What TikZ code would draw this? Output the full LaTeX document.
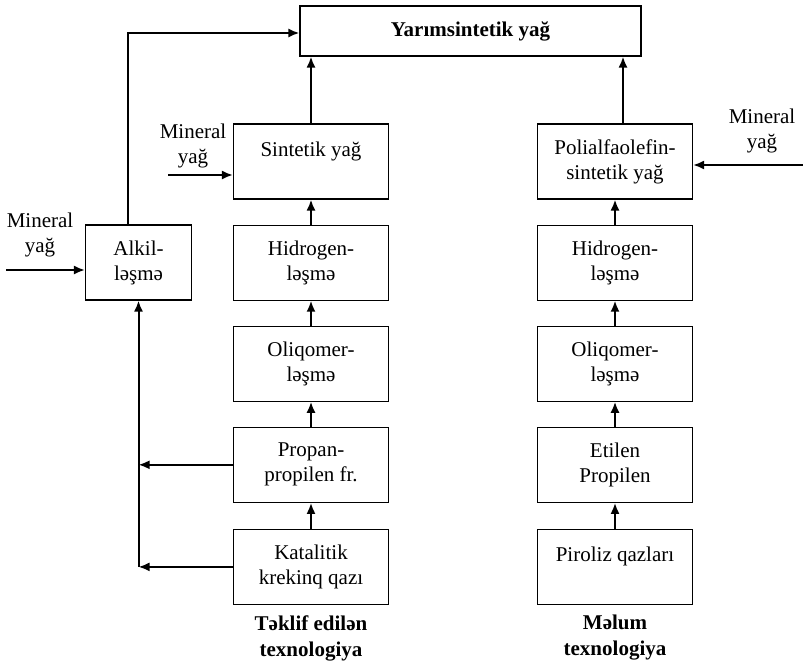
\documentclass[tikz,border=0pt]{standalone}
\usepackage{fontspec}
\setmainfont{Liberation Serif}
\usetikzlibrary{arrows.meta,positioning}

\begin{document}
\begin{tikzpicture}[x=1pt,y=-1pt,
    font=\fontsize{21}{25}\selectfont,
    blok/.style={draw,line width=1.1pt,minimum width=155pt,minimum height=75pt,inner sep=0pt,align=center},
    arr/.style={line width=2pt,-{Latex[length=11pt,width=9pt]}}]
    \useasboundingbox (0,0) rectangle (803,664);

    \node[blok,minimum width=341pt,minimum height=50pt,font=\fontsize{21}{25}\selectfont\bfseries] (top) at (470.5,31) {Yarımsintetik yağ};

    \node[blok] (sint) at (311,161.5) {Sintetik yağ\\\mbox{}};
    \node[blok,below=25pt of sint] (hid1) {Hidrogen-\\ləşmə};
    \node[blok,below=25pt of hid1] (oli1) {Oliqomer-\\ləşmə};
    \node[blok,below=25pt of oli1] (prop) {Propan-\\propilen fr.};
    \node[blok,below=26pt of prop] (kat) {Katalitik\\krekinq qazı};

    \node[blok] (pao) at (615,161.5) {Polialfaolefin-\\sintetik yağ};
    \node[blok,below=25pt of pao] (hid2) {Hidrogen-\\ləşmə};
    \node[blok,below=25pt of hid2] (oli2) {Oliqomer-\\ləşmə};
    \node[blok,below=25pt of oli2] (etil) {Etilen\\Propilen};
    \node[blok,below=26pt of etil] (pir) {Piroliz qazları\\\mbox{}};

    \node[blok,minimum width=106pt] (alk) at (138.5,262.5) {Alkil-\\ləşmə};

    \node[align=center] (min1) at (40,235) {Mineral\\yağ};
    \node[align=center] (min2) at (193,146) {Mineral\\yağ};
    \node[align=center] (min3) at (762,131) {Mineral\\yağ};

    \node[align=center,font=\fontsize{21}{26}\selectfont\bfseries] (tek1) at (311,638) {Təklif edilən\\texnologiya};
    \node[align=center,font=\fontsize{21}{26}\selectfont\bfseries] (tek2) at (615,638) {Məlum\\texnologiya};

    \coordinate (m1) at (6,270);
    \coordinate (m2) at (168,175);
    \coordinate (m3) at (803,165);
    \coordinate (k1) at (128,33);

    \draw[arr] (hid1) -- (sint);
    \draw[arr] (oli1) -- (hid1);
    \draw[arr] (prop) -- (oli1);
    \draw[arr] (kat) -- (prop);
    \draw[arr] (hid2) -- (pao);
    \draw[arr] (oli2) -- (hid2);
    \draw[arr] (etil) -- (oli2);
    \draw[arr] (pir) -- (etil);

    \draw[arr] (sint) -- (sint.north |- top.south);
    \draw[arr] ([xshift=8pt]pao.north) -- ([xshift=8pt]pao.north |- top.south);
    \draw[arr] (alk.north -| k1) -- (k1) -- (k1 -| top.west);

    \draw[arr] (m1) -- (m1 -| alk.west);
    \draw[arr] (m2) -- (m2 -| sint.west);
    \draw[arr] (m3) -- (m3 -| pao.east);

    \draw[arr] (prop.west) -- (prop.west -| alk.south);
    \draw[arr] (kat.west) -- (kat.west -| alk.south);
    \draw[arr] (kat.west -| alk.south) -- (alk.south);
\end{tikzpicture}
\end{document}
